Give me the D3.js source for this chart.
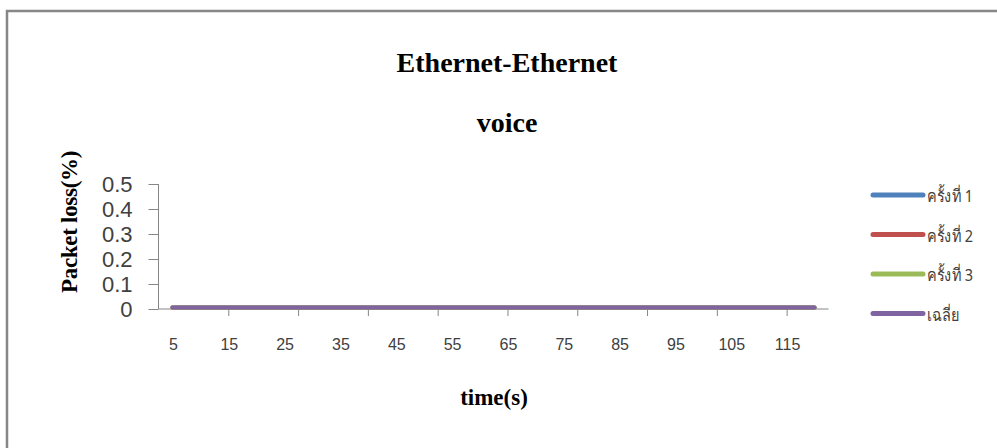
<!DOCTYPE html>
<html>
<head>
<meta charset="utf-8">
<script src="https://cdn.jsdelivr.net/npm/d3@7"></script>
<style>
  html, body { margin: 0; padding: 0; background: #fff; }
  svg { display: block; }
</style>
</head>
<body>
<svg id="chart" width="997" height="448"></svg>
<script>
// Time points (seconds) along the category axis
const times = [5, 10, 15, 20, 25, 30, 35, 40, 45, 50, 55, 60, 65, 70, 75, 80, 85, 90, 95, 100, 105, 110, 115, 120];
// Packet loss (%) for each run and their average
const run1 = [0, 0, 0, 0, 0, 0, 0, 0, 0, 0, 0, 0, 0, 0, 0, 0, 0, 0, 0, 0, 0, 0, 0, 0];
const run2 = [0, 0, 0, 0, 0, 0, 0, 0, 0, 0, 0, 0, 0, 0, 0, 0, 0, 0, 0, 0, 0, 0, 0, 0];
const run3 = [0, 0, 0, 0, 0, 0, 0, 0, 0, 0, 0, 0, 0, 0, 0, 0, 0, 0, 0, 0, 0, 0, 0, 0];
const average = [0, 0, 0, 0, 0, 0, 0, 0, 0, 0, 0, 0, 0, 0, 0, 0, 0, 0, 0, 0, 0, 0, 0, 0];
const seriesNames = ["ครั้งที่ 1", "ครั้งที่ 2", "ครั้งที่ 3", "เฉลี่ย"];
const yTicks = [0, 0.1, 0.2, 0.3, 0.4, 0.5];
const xLabelTimes = [5, 15, 25, 35, 45, 55, 65, 75, 85, 95, 105, 115];

const series = [
  { name: seriesNames[0], values: run1, color: "#4F81BD" },
  { name: seriesNames[1], values: run2, color: "#C0504D" },
  { name: seriesNames[2], values: run3, color: "#9BBB59" },
  { name: seriesNames[3], values: average, color: "#8064A2" }
];

const svg = d3.select("#chart");

// Outer frame (runs past the right and bottom edges)
svg.append("rect")
  .attr("x", 7).attr("y", 11)
  .attr("width", 1100).attr("height", 600)
  .attr("fill", "#fff")
  .attr("stroke", "#878787")
  .attr("stroke-width", 2.5);

const plot = { left: 158.5, right: 828.5, top: 184, bottom: 309 };

// Category axis: each time point occupies one slot, drawn at slot centre
const x = d3.scaleLinear().domain([0, times.length]).range([plot.left, plot.right]);
const xPos = i => x(i + 0.5);
const y = d3.scaleLinear().domain([0, 0.5]).range([plot.bottom, plot.top]);

const axisColor = "#868686";
const tickText = "#404040";

// Y axis
const yAxis = svg.append("g")
  .attr("transform", `translate(${plot.left},0)`)
  .call(d3.axisLeft(y).tickValues(yTicks).tickSize(10).tickPadding(16)
    .tickFormat(d => d === 0 ? "0" : d3.format(".1f")(d)));
yAxis.select(".domain").attr("stroke", axisColor).attr("d", `M0,${plot.top}V${plot.bottom}`);
yAxis.selectAll(".tick line").attr("stroke", axisColor);
yAxis.selectAll(".tick text")
  .attr("fill", tickText)
  .style("font-family", "'Liberation Sans', Arial, sans-serif")
  .style("font-size", "22px")
  .attr("dy", "0.36em");

// X axis: tick marks every 2.5 slots, labels every second time point
const xTickIdx = d3.range(0, times.length, 2.5);
const xAxis = svg.append("g")
  .attr("transform", `translate(0,${plot.bottom})`)
  .call(d3.axisBottom(x).tickValues(xTickIdx).tickSize(7).tickFormat(""));
xAxis.select(".domain").attr("stroke", axisColor).attr("d", `M${plot.left},0H${plot.right}`);
xAxis.selectAll(".tick line").attr("stroke", axisColor);
xAxis.selectAll(".tick").filter(d => d === 0).select("line").remove();

svg.append("g").selectAll("text")
  .data(xLabelTimes)
  .join("text")
  .attr("x", t => xPos(times.indexOf(t)) + 1)
  .attr("y", 350)
  .attr("text-anchor", "middle")
  .attr("fill", tickText)
  .style("font-family", "'Liberation Sans', Arial, sans-serif")
  .style("font-size", "16px")
  .text(t => t);

// Series lines
const line = d3.line()
  .x((d, i) => xPos(i))
  .y(d => y(d) - 1.5);

svg.append("g").selectAll("path")
  .data(series)
  .join("path")
  .attr("d", s => line(s.values))
  .attr("fill", "none")
  .attr("stroke", s => s.color)
  .attr("stroke-width", 4)
  .attr("stroke-linecap", "round")
  .attr("stroke-linejoin", "round");

// Titles
const serif = "'Liberation Serif', 'Times New Roman', serif";
svg.append("text")
  .attr("x", 507).attr("y", 72)
  .attr("text-anchor", "middle")
  .style("font-family", serif).style("font-weight", "bold").style("font-size", "28px")
  .text("Ethernet-Ethernet");
svg.append("text")
  .attr("x", 507).attr("y", 132)
  .attr("text-anchor", "middle")
  .style("font-family", serif).style("font-weight", "bold").style("font-size", "28px")
  .text("voice");
svg.append("text")
  .attr("x", 494).attr("y", 405)
  .attr("text-anchor", "middle")
  .style("font-family", serif).style("font-weight", "bold").style("font-size", "23px")
  .text("time(s)");
svg.append("text")
  .attr("transform", "translate(77,222) rotate(-90)")
  .attr("text-anchor", "middle")
  .style("font-family", serif).style("font-weight", "bold").style("font-size", "23px")
  .style("letter-spacing", "-0.3px")
  .text("Packet loss(%)");

// Legend
const legend = svg.append("g");
const legendY = i => 195 + i * 39.5;
legend.selectAll("line")
  .data(series)
  .join("line")
  .attr("x1", 873).attr("x2", 923)
  .attr("y1", (s, i) => legendY(i)).attr("y2", (s, i) => legendY(i))
  .attr("stroke", s => s.color)
  .attr("stroke-width", 5)
  .attr("stroke-linecap", "round");
legend.selectAll("text")
  .data(series)
  .join("text")
  .attr("transform", (s, i) => `translate(927,${legendY(i) + 7}) scale(0.85,1)`)
  .attr("fill", "#404040")
  .style("font-family", "'Noto Sans', 'DejaVu Sans', sans-serif")
  .style("font-size", "17px")
  .text(s => s.name);
</script>
</body>
</html>
